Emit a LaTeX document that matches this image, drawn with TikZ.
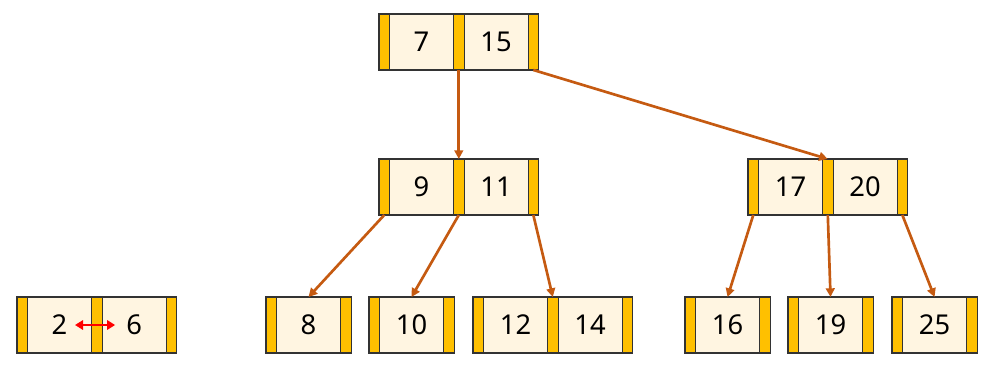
\documentclass[tikz,border=0pt]{standalone}
\usepackage{fontspec}
\setmainfont{Noto Sans}
\usetikzlibrary{arrows.meta,positioning}
\definecolor{Ptr}{HTML}{FFC000}
\definecolor{Cell}{HTML}{FFF5E1}
\definecolor{Edge}{HTML}{333333}
\definecolor{Link}{HTML}{C55A11}

\begin{document}
\begin{tikzpicture}[x=0.75pt,y=-0.75pt,
  ptr/.style={draw=Edge,line width=0.8pt,fill=Ptr,minimum width=7.9pt,minimum height=42pt,inner sep=0pt,outer sep=0pt,anchor=west},
  key/.style={draw=Edge,line width=0.8pt,fill=Cell,minimum width=48pt,minimum height=42pt,inner sep=0pt,outer sep=0pt,font=\fontsize{20.5}{24}\selectfont},
  link/.style={-{Triangle[length=6.5pt,width=6.5pt]},Link,line width=2pt}]
\useasboundingbox (0,0) rectangle (995,371);
% root
\node[ptr] (rt-p0) at (379,42) {};
\node[key,right=0pt of rt-p0] (rt-k1) {7};
\node[ptr,right=0pt of rt-k1] (rt-p1) {};
\node[key,right=0pt of rt-p1] (rt-k2) {15};
\node[ptr,right=0pt of rt-k2] (rt-p2) {};
% second level
\node[ptr] (n9-p0) at (379,187) {};
\node[key,right=0pt of n9-p0] (n9-k1) {9};
\node[ptr,right=0pt of n9-k1] (n9-p1) {};
\node[key,right=0pt of n9-p1] (n9-k2) {11};
\node[ptr,right=0pt of n9-k2] (n9-p2) {};
\node[ptr] (n17-p0) at (748,187) {};
\node[key,right=0pt of n17-p0] (n17-k1) {17};
\node[ptr,right=0pt of n17-k1] (n17-p1) {};
\node[key,right=0pt of n17-p1] (n17-k2) {20};
\node[ptr,right=0pt of n17-k2] (n17-p2) {};
% leaves
\node[ptr] (lf2-p0) at (17,325) {};
\node[key,right=0pt of lf2-p0] (lf2-k1) {2};
\node[ptr,right=0pt of lf2-k1] (lf2-p1) {};
\node[key,right=0pt of lf2-p1] (lf2-k2) {6};
\node[ptr,right=0pt of lf2-k2] (lf2-p2) {};
\node[ptr] (lf8-p0) at (266,325) {};
\node[key,right=0pt of lf8-p0] (lf8-k1) {8};
\node[ptr,right=0pt of lf8-k1] (lf8-p1) {};
\node[ptr] (lf10-p0) at (369,325) {};
\node[key,right=0pt of lf10-p0] (lf10-k1) {10};
\node[ptr,right=0pt of lf10-k1] (lf10-p1) {};
\node[ptr] (lf12-p0) at (473,325) {};
\node[key,right=0pt of lf12-p0] (lf12-k1) {12};
\node[ptr,right=0pt of lf12-k1] (lf12-p1) {};
\node[key,right=0pt of lf12-p1] (lf12-k2) {14};
\node[ptr,right=0pt of lf12-k2] (lf12-p2) {};
\node[ptr] (lf16-p0) at (685,325) {};
\node[key,right=0pt of lf16-p0] (lf16-k1) {16};
\node[ptr,right=0pt of lf16-k1] (lf16-p1) {};
\node[ptr] (lf19-p0) at (788,325) {};
\node[key,right=0pt of lf19-p0] (lf19-k1) {19};
\node[ptr,right=0pt of lf19-k1] (lf19-p1) {};
\node[ptr] (lf25-p0) at (892,325) {};
\node[key,right=0pt of lf25-p0] (lf25-k1) {25};
\node[ptr,right=0pt of lf25-k1] (lf25-p1) {};
% child pointers
\draw[link] (rt-p1.south) -- (n9-p1.north);
\draw[link] (rt-p2.south) -- (n17-p1.north);
\draw[link] (n9-p0.south) -- (lf8-k1.north);
\draw[link] (n9-p1.south) -- (lf10-k1.north);
\draw[link] (n9-p2.south) -- (lf12-p1.north);
\draw[link] (n17-p0.south) -- (lf16-k1.north);
\draw[link] (n17-p1.south) -- (lf19-k1.north);
\draw[link] (n17-p2.south) -- (lf25-k1.north);
% swap
\draw[{Triangle[length=6pt,width=7pt]}-{Triangle[length=6pt,width=7pt]},red,line width=2.2pt,shorten <=11.6pt,shorten >=14.2pt] (lf2-k1.center) -- (lf2-k2.center);
\end{tikzpicture}
\end{document}
